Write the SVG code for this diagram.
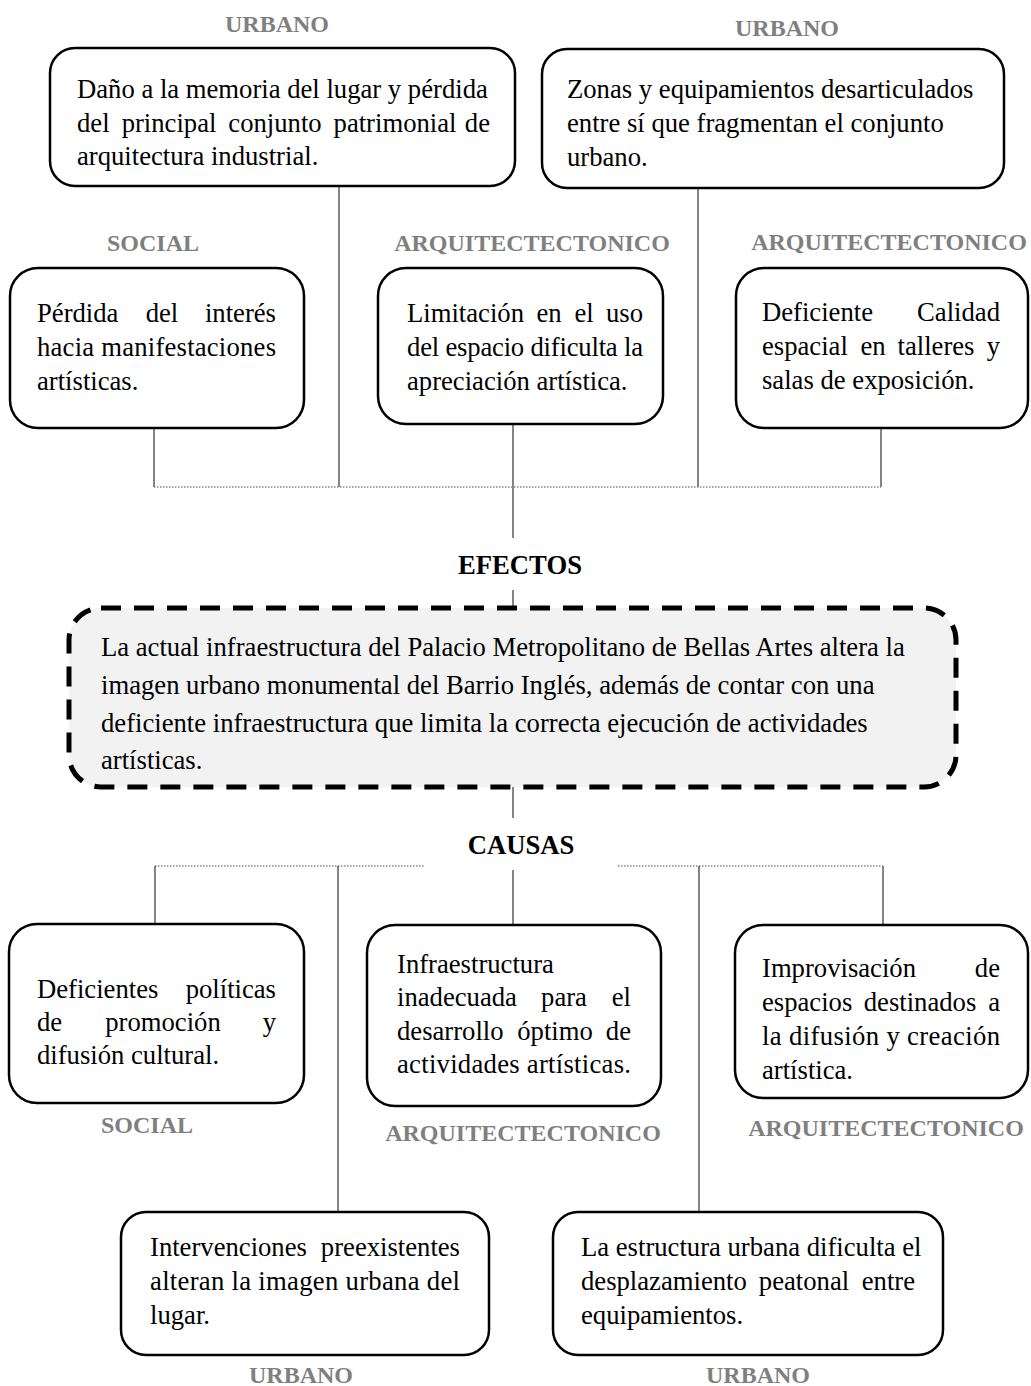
<svg xmlns="http://www.w3.org/2000/svg" width="1031" height="1386" viewBox="0 0 1031 1386">
<style>
.box{fill:#fff;stroke:#000;stroke-width:2.5}
.core{fill:#f2f2f2;stroke:#000;stroke-width:5;stroke-dasharray:20 13}
.t{font-family:"Liberation Serif","Times New Roman",serif;font-size:26.67px;fill:#000}
.lbl{font-family:"Liberation Serif","Times New Roman",serif;font-size:24px;font-weight:bold;fill:#7f7f7f;text-anchor:middle}
.hd{font-family:"Liberation Serif","Times New Roman",serif;font-size:26.67px;font-weight:bold;fill:#000;text-anchor:middle}
.m{text-anchor:middle}
.e{text-anchor:end}
.ln{stroke:#333;stroke-width:1.2;fill:none}
.dot{stroke:#888;stroke-width:1.5;stroke-dasharray:1.5 1.5;fill:none}
</style>
<rect width="1031" height="1386" fill="#fff"/>
<g id="connectors">
<line class="ln" x1="339" y1="186" x2="339" y2="487"/>
<line class="ln" x1="698" y1="188" x2="698" y2="487"/>
<line class="ln" x1="154" y1="428" x2="154" y2="487"/>
<line class="ln" x1="513" y1="424" x2="513" y2="538"/>
<line class="ln" x1="881" y1="428" x2="881" y2="487"/>
<line class="dot" x1="154" y1="487" x2="881" y2="487"/>
<line class="ln" x1="513" y1="590" x2="513" y2="608"/>
<line class="ln" x1="513" y1="787" x2="513" y2="818"/>
<line class="dot" x1="155" y1="866" x2="424" y2="866"/>
<line class="dot" x1="618" y1="866" x2="883" y2="866"/>
<line class="ln" x1="513" y1="870" x2="513" y2="925"/>
<line class="ln" x1="155" y1="866" x2="155" y2="924"/>
<line class="ln" x1="338" y1="866" x2="338" y2="1212"/>
<line class="ln" x1="699" y1="866" x2="699" y2="1212"/>
<line class="ln" x1="883" y1="866" x2="883" y2="925"/>
</g>
<g id="labels">
<text class="lbl" x="277" y="32">URBANO</text>
<text class="lbl" x="787" y="36">URBANO</text>
<text class="lbl" x="153" y="251">SOCIAL</text>
<text class="lbl" x="532" y="251">ARQUITECTECTONICO</text>
<text class="lbl" x="889" y="250">ARQUITECTECTONICO</text>
<text class="hd" x="520" y="574">EFECTOS</text>
<text class="hd" x="521" y="854">CAUSAS</text>
<text class="lbl" x="147" y="1133">SOCIAL</text>
<text class="lbl" x="523" y="1141">ARQUITECTECTONICO</text>
<text class="lbl" x="886" y="1136">ARQUITECTECTONICO</text>
<text class="lbl" x="301" y="1383">URBANO</text>
<text class="lbl" x="758" y="1383">URBANO</text>
</g>
<g id="nodeA">
<rect class="box" x="50" y="48" width="465" height="138" rx="25"/>
<text class="t" x="77" y="98">Daño a la memoria del lugar y pérdida</text>
<text class="t" x="77" y="131.5">del</text>
<text class="t m" x="169" y="131.5">principal</text>
<text class="t m" x="275" y="131.5">conjunto</text>
<text class="t m" x="395" y="131.5">patrimonial</text>
<text class="t e" x="490" y="131.5">de</text>
<text class="t" x="77" y="165">arquitectura industrial.</text>
</g>
<g id="nodeB">
<rect class="box" x="542" y="49" width="462" height="139" rx="25"/>
<text class="t" x="567" y="98">Zonas y equipamientos desarticulados</text>
<text class="t" x="567" y="132">entre sí que fragmentan el conjunto</text>
<text class="t" x="567" y="166">urbano.</text>
</g>
<g id="nodeC">
<rect class="box" x="10" y="268" width="294" height="160" rx="28"/>
<text class="t" x="37" y="322">Pérdida</text>
<text class="t m" x="162" y="322">del</text>
<text class="t e" x="276" y="322">interés</text>
<text class="t" x="37" y="356" textLength="239" lengthAdjust="spacing">hacia manifestaciones</text>
<text class="t" x="37" y="390">artísticas.</text>
</g>
<g id="nodeD">
<rect class="box" x="378" y="268" width="285" height="156" rx="28"/>
<text class="t" x="407" y="322">Limitación</text>
<text class="t m" x="549" y="322">en</text>
<text class="t m" x="584" y="322">el</text>
<text class="t e" x="643" y="322">uso</text>
<text class="t" x="407" y="356" textLength="236" lengthAdjust="spacing">del espacio dificulta la</text>
<text class="t" x="407" y="390">apreciación artística.</text>
</g>
<g id="nodeE">
<rect class="box" x="736" y="268" width="292" height="160" rx="28"/>
<text class="t" x="762" y="321">Deficiente</text>
<text class="t e" x="1000" y="321">Calidad</text>
<text class="t" x="762" y="355">espacial</text>
<text class="t m" x="873" y="355">en</text>
<text class="t m" x="936" y="355">talleres</text>
<text class="t e" x="1000" y="355">y</text>
<text class="t" x="762" y="389">salas de exposición.</text>
</g>
<g id="nodeCore">
<rect class="core" x="69" y="608" width="887" height="179" rx="32"/>
<text class="t" x="101" y="656">La actual infraestructura del Palacio Metropolitano de Bellas Artes altera la</text>
<text class="t" x="101" y="694">imagen urbano monumental del Barrio Inglés, además de contar con una</text>
<text class="t" x="101" y="732">deficiente infraestructura que limita la correcta ejecución de actividades</text>
<text class="t" x="101" y="769">artísticas.</text>
</g>
<g id="nodeF">
<rect class="box" x="9" y="924" width="295" height="179" rx="28"/>
<text class="t" x="37" y="998">Deficientes</text>
<text class="t e" x="276" y="998">políticas</text>
<text class="t" x="37" y="1031">de</text>
<text class="t m" x="163" y="1031">promoción</text>
<text class="t e" x="276" y="1031">y</text>
<text class="t" x="37" y="1064">difusión cultural.</text>
</g>
<g id="nodeG">
<rect class="box" x="367" y="925" width="294" height="181" rx="28"/>
<text class="t" x="397" y="973">Infraestructura</text>
<text class="t" x="397" y="1006">inadecuada</text>
<text class="t m" x="564" y="1006">para</text>
<text class="t e" x="631" y="1006">el</text>
<text class="t" x="397" y="1040">desarrollo</text>
<text class="t m" x="555" y="1040">óptimo</text>
<text class="t e" x="631" y="1040">de</text>
<text class="t" x="397" y="1073" textLength="234" lengthAdjust="spacing">actividades artísticas.</text>
</g>
<g id="nodeH">
<rect class="box" x="735" y="925" width="293" height="173" rx="28"/>
<text class="t" x="762" y="977">Improvisación</text>
<text class="t e" x="1000" y="977">de</text>
<text class="t" x="762" y="1011">espacios</text>
<text class="t m" x="920" y="1011">destinados</text>
<text class="t e" x="1000" y="1011">a</text>
<text class="t" x="762" y="1045" textLength="238" lengthAdjust="spacing">la difusión y creación</text>
<text class="t" x="762" y="1079">artística.</text>
</g>
<g id="nodeI">
<rect class="box" x="121" y="1212" width="368" height="143" rx="25"/>
<text class="t" x="150" y="1256">Intervenciones</text>
<text class="t e" x="460" y="1256">preexistentes</text>
<text class="t" x="150" y="1290" textLength="310" lengthAdjust="spacing">alteran la imagen urbana del</text>
<text class="t" x="150" y="1324">lugar.</text>
</g>
<g id="nodeJ">
<rect class="box" x="553" y="1212" width="390" height="143" rx="25"/>
<text class="t" x="581" y="1256">La estructura urbana dificulta el</text>
<text class="t" x="581" y="1290">desplazamiento</text>
<text class="t m" x="804" y="1290">peatonal</text>
<text class="t e" x="915" y="1290">entre</text>
<text class="t" x="581" y="1324">equipamientos.</text>
</g>
</svg>
